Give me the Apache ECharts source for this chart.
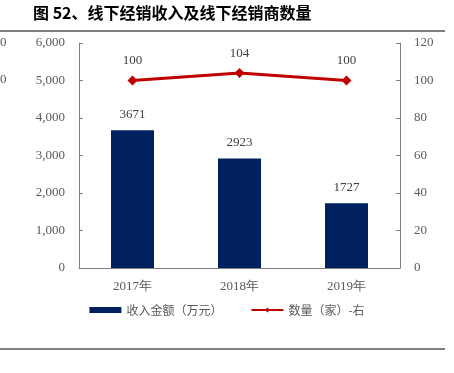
<!DOCTYPE html>
<html><head><meta charset="utf-8">
<script src="https://cdn.jsdelivr.net/npm/echarts@6/dist/echarts.min.js"></script>
<style>html,body{margin:0;padding:0;background:#fff;}#c{width:454px;height:373px;}</style>
</head><body><div id="c"></div>
<script>
const categories = ['2017年', '2018年', '2019年'];
const revenue = [3671, 2923, 1727];
const dealers = [100, 104, 100];
const leftTicks = [0, 1000, 2000, 3000, 4000, 5000, 6000];
const rightTicks = [0, 20, 40, 60, 80, 100, 120];
const title = '图 52、线下经销收入及线下经销商数量';
const revenueName = '收入金额（万元）';
const dealersName = '数量（家）-右';

const chart = echarts.init(document.getElementById('c'));
const serif = '"Liberation Serif", "Times New Roman", serif';
const axisColor = '#595959';
chart.setOption({
  animation: false,
  backgroundColor: '#fff',
  graphic: [
    {type: 'text', left: 33, top: 5, style: {text: title, font: 'bold 16px "Noto Sans CJK SC"', fill: '#000'}},
    {type: 'line', shape: {x1: 0, y1: 31, x2: 445, y2: 31}, style: {stroke: '#808080', lineWidth: 2}},
    {type: 'line', shape: {x1: 0, y1: 349, x2: 445, y2: 349}, style: {stroke: '#808080', lineWidth: 2}},
    {type: 'text', left: 0, top: 36, style: {text: '0', font: '13px ' + serif, fill: axisColor}},
    {type: 'text', left: 0, top: 73, style: {text: '0', font: '13px ' + serif, fill: axisColor}}
  ],
  grid: {left: 79, right: 54, top: 43, bottom: 105, containLabel: false},
  legend: {
    bottom: 52, left: 'center', itemGap: 28, itemWidth: 32, itemHeight: 6,
    textStyle: {fontFamily: '"Noto Sans CJK SC"', fontSize: 12, color: axisColor},
    data: [
      {name: revenueName, icon: 'rect'},
      {name: dealersName}
    ]
  },
  xAxis: {
    type: 'category', data: categories,
    axisLine: {lineStyle: {color: '#808080', width: 1}},
    axisTick: {show: false},
    axisLabel: {color: axisColor, fontFamily: serif, fontSize: 13, margin: 12}
  },
  yAxis: [
    {type: 'value', min: 0, max: 6000, interval: 1000, position: 'left',
     axisLine: {show: true, lineStyle: {color: '#808080'}},
     axisTick: {show: true, inside: true, length: 4, lineStyle: {color: '#808080'}},
     splitLine: {show: false},
     axisLabel: {color: axisColor, fontFamily: serif, fontSize: 13, margin: 14,
       formatter: v => leftTicks.includes(v) ? v.toLocaleString('en-US') : ''}},
    {type: 'value', min: 0, max: 120, interval: 20, position: 'right',
     axisLine: {show: true, lineStyle: {color: '#808080'}},
     axisTick: {show: true, inside: true, length: 4, lineStyle: {color: '#808080'}},
     splitLine: {show: false},
     axisLabel: {color: axisColor, fontFamily: serif, fontSize: 13, margin: 14,
       formatter: v => rightTicks.includes(v) ? String(v) : ''}}
  ],
  series: [
    {name: revenueName, type: 'bar', data: revenue, barWidth: 43, yAxisIndex: 0,
     itemStyle: {color: '#002060'},
     label: {show: true, position: 'top', distance: 9, color: '#404040', fontFamily: serif, fontSize: 13}},
    {name: dealersName, type: 'line', data: dealers, yAxisIndex: 1,
     symbol: 'diamond', symbolSize: 10,
     lineStyle: {color: '#C00000', width: 3}, itemStyle: {color: '#C00000'},
     label: {show: true, position: 'top', distance: 8, color: '#404040', fontFamily: serif, fontSize: 13}}
  ]
});
</script></body></html>
